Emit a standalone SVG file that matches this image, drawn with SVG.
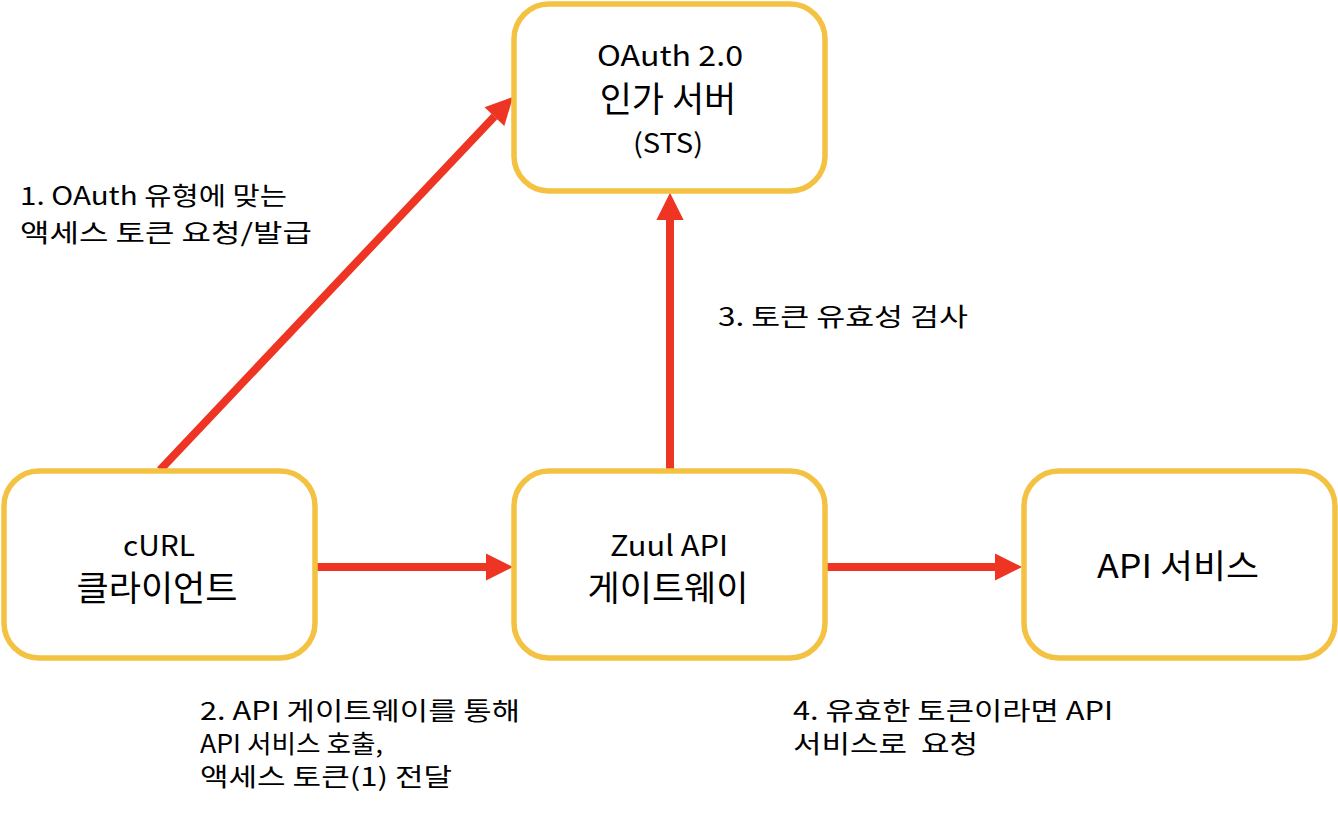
<svg xmlns="http://www.w3.org/2000/svg" width="1338" height="818" viewBox="0 0 1338 818">
<defs>
<style>
.box{fill:#fff;stroke:#F4C242;stroke-width:5.5}
.t{font-family:"Noto Sans CJK KR","Noto Sans",sans-serif;fill:#000;text-anchor:middle}
.l{font-family:"Noto Sans CJK KR","Noto Sans",sans-serif;fill:#000;font-size:25px;white-space:pre}
.c{stroke:#EE3524;stroke-width:8;fill:none}
</style>
<marker id="ah" markerWidth="3.4" markerHeight="3.4" refX="0" refY="1.7" orient="auto" markerUnits="strokeWidth" overflow="visible">
<path d="M0,0 L3.4,1.7 L0,3.4 Z" fill="#EE3524"/>
</marker>
</defs>
<rect width="1338" height="818" fill="#fff"/>
<g id="connectors">
<line class="c" x1="160" y1="470" x2="494.4" y2="116.6" marker-end="url(#ah)"/>
<line class="c" x1="670" y1="470" x2="670" y2="220" marker-end="url(#ah)"/>
<line class="c" x1="317" y1="567" x2="486" y2="567" marker-end="url(#ah)"/>
<line class="c" x1="826" y1="567" x2="995" y2="567" marker-end="url(#ah)"/>
</g>
<g id="oauth">
<rect class="box" x="514" y="4" width="311" height="187" rx="35"/>
<text class="t" x="670" y="66" font-size="28" textLength="146" lengthAdjust="spacingAndGlyphs">OAuth 2.0</text>
<text class="t" x="668" y="112" font-size="35">인가 서버</text>
<text class="t" x="668" y="153" font-size="27" textLength="70" lengthAdjust="spacingAndGlyphs">(STS)</text>
</g>
<g id="curl">
<rect class="box" x="4" y="471" width="311" height="187" rx="35"/>
<text class="t" x="159" y="556" font-size="28" textLength="72" lengthAdjust="spacingAndGlyphs">cURL</text>
<text class="t" x="157" y="601" font-size="35">클라이언트</text>
</g>
<g id="zuul">
<rect class="box" x="514" y="471" width="311" height="187" rx="35"/>
<text class="t" x="669" y="556" font-size="28" textLength="118" lengthAdjust="spacingAndGlyphs">Zuul API</text>
<text class="t" x="668" y="601" font-size="35">게이트웨이</text>
</g>
<g id="api">
<rect class="box" x="1024" y="471" width="311" height="187" rx="35"/>
<text class="t" x="1178" y="578" font-size="33" textLength="162" lengthAdjust="spacingAndGlyphs">API 서비스</text>
</g>
<g id="labels">
<text class="l" x="20" y="205" textLength="267" lengthAdjust="spacingAndGlyphs">1. OAuth 유형에 맞는</text>
<text class="l" x="20" y="242" textLength="292" lengthAdjust="spacingAndGlyphs">액세스 토큰 요청/발급</text>
<text class="l" x="718" y="326" textLength="250" lengthAdjust="spacingAndGlyphs">3. 토큰 유효성 검사</text>
<text class="l" x="200" y="720" textLength="320" lengthAdjust="spacingAndGlyphs">2. API 게이트웨이를 통해</text>
<text class="l" x="200" y="753" textLength="183" lengthAdjust="spacingAndGlyphs">API 서비스 호출,</text>
<text class="l" x="200" y="786" textLength="252" lengthAdjust="spacingAndGlyphs">액세스 토큰(1) 전달</text>
<text class="l" x="793" y="720" textLength="320" lengthAdjust="spacingAndGlyphs">4. 유효한 토큰이라면 API</text>
<text class="l" x="793" y="753" textLength="185" lengthAdjust="spacingAndGlyphs">서비스로  요청</text>
</g>
</svg>
